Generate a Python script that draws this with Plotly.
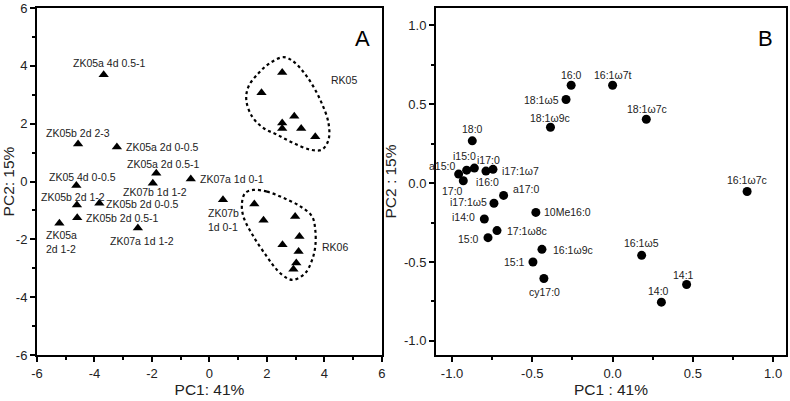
import plotly.graph_objects as go

# -- panel A: sample scores ---------------------------------------------------
zk_names = [
    "ZK05a 4d 0.5-1", "ZK05b 2d 2-3", "ZK05a 2d 0-0.5", "ZK05a 2d 0.5-1",
    "ZK07a 1d 0-1", "ZK05 4d 0-0.5", "ZK07b 1d 1-2", "ZK05b 2d 1-2",
    "ZK05b 2d 0-0.5", "ZK05b 2d 0.5-1", "ZK05a<br>2d 1-2", "ZK07a 1d 1-2",
    "ZK07b<br>1d 0-1",
]
zk_pc1 = [-3.68, -4.57, -3.22, -1.85, -0.65, -4.63, -1.97, -4.61, -3.83, -4.60, -5.22, -2.49, 0.47]
zk_pc2 = [3.69, 1.30, 1.19, 0.29, 0.09, -0.14, -0.06, -0.81, -0.75, -1.25, -1.44, -1.61, -0.63]

rk05_pc1 = [2.53, 1.81, 2.95, 2.53, 2.53, 3.19, 3.68]
rk05_pc2 = [3.77, 3.07, 2.26, 2.02, 1.83, 1.83, 1.55]
rk06_pc1 = [1.56, 1.88, 2.98, 3.13, 2.54, 3.10, 3.02, 2.92]
rk06_pc2 = [-0.78, -1.34, -1.21, -1.90, -2.19, -2.42, -2.82, -3.03]

# hand-drawn dotted outlines round the two RK groups
rk05_hull_x = [2.58, 2.92, 3.39, 3.85, 4.14, 4.14, 3.91, 3.51, 2.92, 2.35, 1.88, 1.48, 1.28, 1.36, 1.71, 2.11, 2.58]
rk05_hull_y = [4.30, 4.15, 3.63, 2.83, 2.02, 1.44, 1.10, 1.10, 1.33, 1.62, 1.85, 2.25, 2.83, 3.29, 3.75, 4.10, 4.30]
rk06_hull_x = [1.53, 2.00, 2.58, 3.16, 3.57, 3.68, 3.68, 3.57, 3.33, 2.92, 2.69, 2.35, 2.00, 1.53, 1.18, 1.13, 1.24, 1.53]
rk06_hull_y = [-0.29, -0.35, -0.57, -0.86, -1.21, -1.67, -2.25, -2.71, -3.17, -3.40, -3.34, -3.06, -2.60, -1.90, -1.21, -0.75, -0.40, -0.29]

# -- panel B: fatty acid loadings ---------------------------------------------
fa_names = [
    "16:0", "16:1ω7t", "18:1ω5", "18:1ω7c", "18:1ω9c", "18:0", "a15:0", "i15:0",
    "i17:0", "i16:0", "i17:1ω7", "17:0", "a17:0", "16:1ω7c", "i17:1ω5", "10Me16:0",
    "i14:0", "17:1ω8c", "15:0", "16:1ω9c", "15:1", "cy17:0", "16:1ω5", "14:1", "14:0",
]
fa_pc1 = [-0.258, 0.0, -0.29, 0.21, -0.387, -0.874, -0.959, -0.909, -0.861, -0.789, -0.745,
          -0.93, -0.679, 0.838, -0.739, -0.478, -0.799, -0.72, -0.776, -0.44, -0.496, -0.428,
          0.181, 0.461, 0.304]
fa_pc2 = [0.62, 0.62, 0.53, 0.405, 0.354, 0.268, 0.057, 0.082, 0.095, 0.076, 0.087, 0.015,
          -0.078, -0.053, -0.128, -0.186, -0.228, -0.301, -0.346, -0.42, -0.5, -0.605,
          -0.458, -0.643, -0.755]

a_ticks = [-6, -4, -2, 0, 2, 4, 6]
a_ticktext = ["-6", "-4", "-2", "0", "2", "4", "6"]
b_ticks = [-1.0, -0.5, 0.0, 0.5, 1.0]
b_ticktext = ["-1.0", "-0.5", "0.0", "0.5", "1.0"]

# label placement: (xanchor, xshift px, yshift px)
zk_label_pos = [
    ("center", 6, 12), ("center", 0, 11), ("left", 7, 0), ("center", 7, 9),
    ("left", 7, 0), ("center", 6, 9), ("center", 2, -9), ("center", -4, 8),
    ("left", 5, -1), ("left", 7, 0), ("left", -15, -19), ("center", 4, -13),
    ("left", -17, -20),
]
fa_label_pos = [
    ("center", 0, 10), ("center", 0, 10), ("right", -5, 0), ("center", 1, 10),
    ("center", 0, 9), ("center", 0, 12), ("right", -2, 8), ("center", -2, 14),
    ("center", 14, 8), ("center", 2, -11), ("left", 7, -2), ("center", -11, -10),
    ("left", 7, 6), ("center", 0, 11), ("right", -5, 1), ("left", 6, 0),
    ("right", -7, 2), ("left", 8, 0), ("right", -7, -1), ("left", 9, -1),
    ("right", -6, 0), ("center", 1, -13), ("center", 0, 12), ("center", -3, 10),
    ("center", -3, 11),
]

FONT = "Liberation Sans, Arial, sans-serif"

fig = go.Figure()

for hx, hy in [(rk05_hull_x, rk05_hull_y), (rk06_hull_x, rk06_hull_y)]:
    fig.add_trace(go.Scatter(
        x=hx, y=hy, mode="lines", xaxis="x", yaxis="y",
        line=dict(color="black", width=2.2, dash="dot", shape="spline", smoothing=1.0),
        hoverinfo="skip",
    ))

fig.add_trace(go.Scatter(
    x=zk_pc1 + rk05_pc1 + rk06_pc1, y=zk_pc2 + rk05_pc2 + rk06_pc2,
    mode="markers", xaxis="x", yaxis="y",
    marker=dict(symbol="triangle-up", size=9, color="black"),
))
fig.add_trace(go.Scatter(
    x=fa_pc1, y=fa_pc2, mode="markers", xaxis="x2", yaxis="y2",
    marker=dict(symbol="circle", size=9, color="black"),
))

label_font = dict(family=FONT, size=10.5, color="#222")
for name, px, py, (anchor, dx, dy) in zip(zk_names, zk_pc1, zk_pc2, zk_label_pos):
    fig.add_annotation(x=px, y=py, xref="x", yref="y", text=name, showarrow=False,
                       xanchor=anchor, yanchor="middle", xshift=dx, yshift=dy,
                       align="left", font=label_font)
for name, px, py, (anchor, dx, dy) in zip(fa_names, fa_pc1, fa_pc2, fa_label_pos):
    fig.add_annotation(x=px, y=py, xref="x2", yref="y2", text=name, showarrow=False,
                       xanchor=anchor, yanchor="middle", xshift=dx, yshift=dy,
                       font=label_font)

# group names and panel letters
fig.add_annotation(x=4.67, y=3.52, xref="x", yref="y", text="RK05", showarrow=False,
                   font=label_font)
fig.add_annotation(x=4.35, y=-2.25, xref="x", yref="y", text="RK06", showarrow=False,
                   font=label_font)
fig.add_annotation(x=0.97, y=0.955, xref="x domain", yref="y domain", text="A",
                   showarrow=False, xanchor="right", yanchor="top",
                   font=dict(family=FONT, size=22, color="black"))
fig.add_annotation(x=0.97, y=0.955, xref="x2 domain", yref="y2 domain", text="B",
                   showarrow=False, xanchor="right", yanchor="top",
                   font=dict(family=FONT, size=22, color="black"))

axis_common = dict(
    showgrid=False, zeroline=False, showline=True, mirror=True, automargin=False,
    linecolor="black", linewidth=2, ticks="outside", ticklen=5, tickwidth=1.5,
    tickcolor="black", tickfont=dict(family=FONT, size=13, color="#222"),
    title_font=dict(family=FONT, size=15.5, color="#222"),
)

fig.update_layout(
    width=790, height=401,
    margin=dict(l=0, r=0, t=0, b=0, autoexpand=False),
    paper_bgcolor="white", plot_bgcolor="white",
    showlegend=False,
    xaxis=dict(axis_common, domain=[0.0468, 0.4835], range=[-6, 6], anchor="y",
               tickvals=a_ticks, ticktext=a_ticktext,
               minor=dict(ticks="outside", dtick=1, ticklen=3, tickcolor="black"),
               title=dict(text="PC1: 41%", standoff=2)),
    yaxis=dict(axis_common, domain=[0.1147, 0.98], range=[-6, 6], anchor="x",
               tickvals=a_ticks, ticktext=a_ticktext,
               minor=dict(ticks="outside", dtick=1, ticklen=3, tickcolor="black"),
               title=dict(text="PC2: 15%", standoff=4)),
    xaxis2=dict(axis_common, domain=[0.5519, 0.9949], range=[-1.1, 1.08], anchor="y2",
                tickvals=b_ticks, ticktext=b_ticktext,
                minor=dict(ticks="outside", dtick=0.25, ticklen=3, tickcolor="black"),
                title=dict(text="PC1 : 41%", standoff=2)),
    yaxis2=dict(axis_common, domain=[0.1147, 0.98], range=[-1.09, 1.11], anchor="x2",
                tickvals=b_ticks, ticktext=b_ticktext,
                minor=dict(ticks="outside", dtick=0.25, ticklen=3, tickcolor="black"),
                title=dict(text="PC2 : 15%", standoff=4)),
)

# the page's default body margin would shift the whole figure by 8 px
fig.write_html("out.html", config={"displayModeBar": False},
               post_script="document.body.style.margin = '0';")
